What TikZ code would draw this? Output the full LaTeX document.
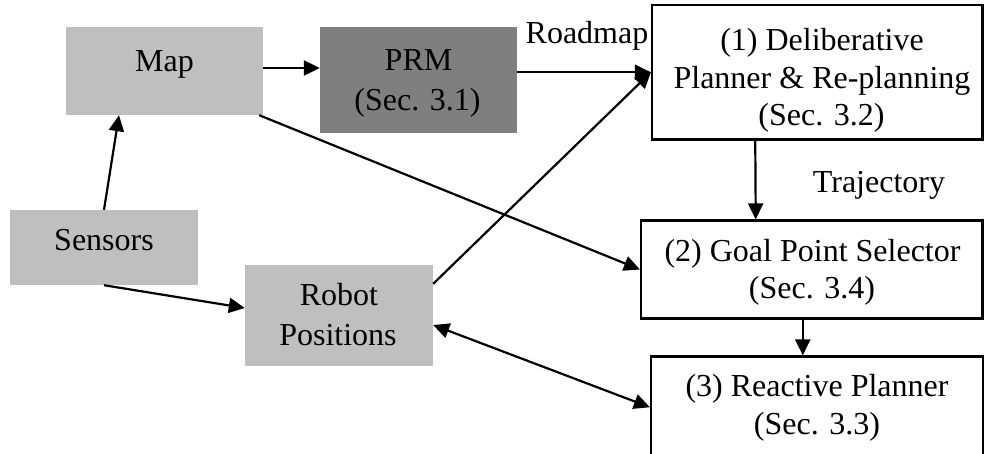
\documentclass[tikz,border=0pt]{standalone}
\usepackage{fontspec}
\setmainfont{Liberation Serif}
\usetikzlibrary{arrows.meta}
\definecolor{lightbox}{HTML}{BFBFBF}
\definecolor{darkbox}{HTML}{7F7F7F}
\tikzset{
  graybox/.style={rectangle, fill=lightbox, draw=none, inner sep=0pt},
  darkgraybox/.style={rectangle, fill=darkbox, draw=none, inner sep=0pt},
  whitebox/.style={rectangle, fill=white, draw=black, line width=2.2pt, inner sep=0pt},
  txt/.style={anchor=base, inner sep=0pt, font=\fontsize{32}{37}\selectfont},
  arr/.style={line width=2.2pt, -{Triangle[length=16pt,width=15pt]}},
  dblarr/.style={line width=2.2pt, {Triangle[length=16pt,width=15pt]}-{Triangle[length=16pt,width=15pt]}}
}
\begin{document}
\begin{tikzpicture}[x=1pt, y=-1pt]
\useasboundingbox (0,0) rectangle (984,453);
\clip (0,0) rectangle (984,453);

% boxes
\node[graybox, minimum width=197pt, minimum height=88pt] (map) at (164.5,71) {};
\node[darkgraybox, minimum width=197pt, minimum height=106pt] (prm) at (418.5,80) {};
\node[whitebox, minimum width=330.5pt, minimum height=134.5pt] (delib) at (817.25,72.25) {};
\node[graybox, minimum width=188pt, minimum height=75pt] (sensors) at (104,247.5) {};
\node[graybox, minimum width=188pt, minimum height=101pt] (robot) at (339,315.5) {};
\node[whitebox, minimum width=341.5pt, minimum height=98pt] (goal) at (811.75,269.5) {};
\node[whitebox, minimum width=332pt, minimum height=105.5pt] (reactive) at (817,409.25) {};

% texts
\node[txt] (mapT) at (164.5,71) {Map};
\node[txt] (prmT1) at (418.5,70) {PRM};
\node[txt] (prmT2) at (417.5,110) {(Sec. 3.1)};
\node[txt] (roadT) at (587,43) {Roadmap};
\node[txt] (delT1) at (822,50) {(1) Deliberative};
\node[txt] (delT2) at (822,88) {Planner \& Re-planning};
\node[txt] (delT3) at (821.5,125) {(Sec. 3.2)};
\node[txt] (senT) at (104,250) {Sensors};
\node[txt] (robT1) at (339,305.5) {Robot};
\node[txt] (robT2) at (338,345) {Positions};
\node[txt] (trajT) at (879,192) {Trajectory};
\node[txt] (goalT1) at (812.5,261.5) {(2) Goal Point Selector};
\node[txt] (goalT2) at (812,298) {(Sec. 3.4)};
\node[txt] (reaT1) at (817,396.5) {(3) Reactive Planner};
\node[txt] (reaT2) at (817,434) {(Sec. 3.3)};

% connectors
\draw[arr] (sensors.north) -- ([xshift=-45.5pt]map.south);
\draw[arr] ([yshift=3pt]map.east) -- ([yshift=3pt]map.east -| prm.west);
\draw[arr] (prm.east |- delib.west) -- (delib.west);
\draw[arr] ([yshift=-19pt]robot.north east) -- (delib.west);
\draw[arr] ([xshift=-4pt]map.south east) -- (goal.west);
\draw[arr] ([xshift=-62pt]delib.south) -- ([xshift=-56pt]goal.north);
\draw[arr] (sensors.south) -- ([yshift=7.5pt]robot.west);
\draw[arr] ([xshift=-9pt]goal.south) -- ([xshift=-9pt]goal.south |- reactive.north);
\draw[dblarr] ([yshift=-9.5pt]robot.east) -- ([yshift=2pt]reactive.west);
\end{tikzpicture}
\end{document}
